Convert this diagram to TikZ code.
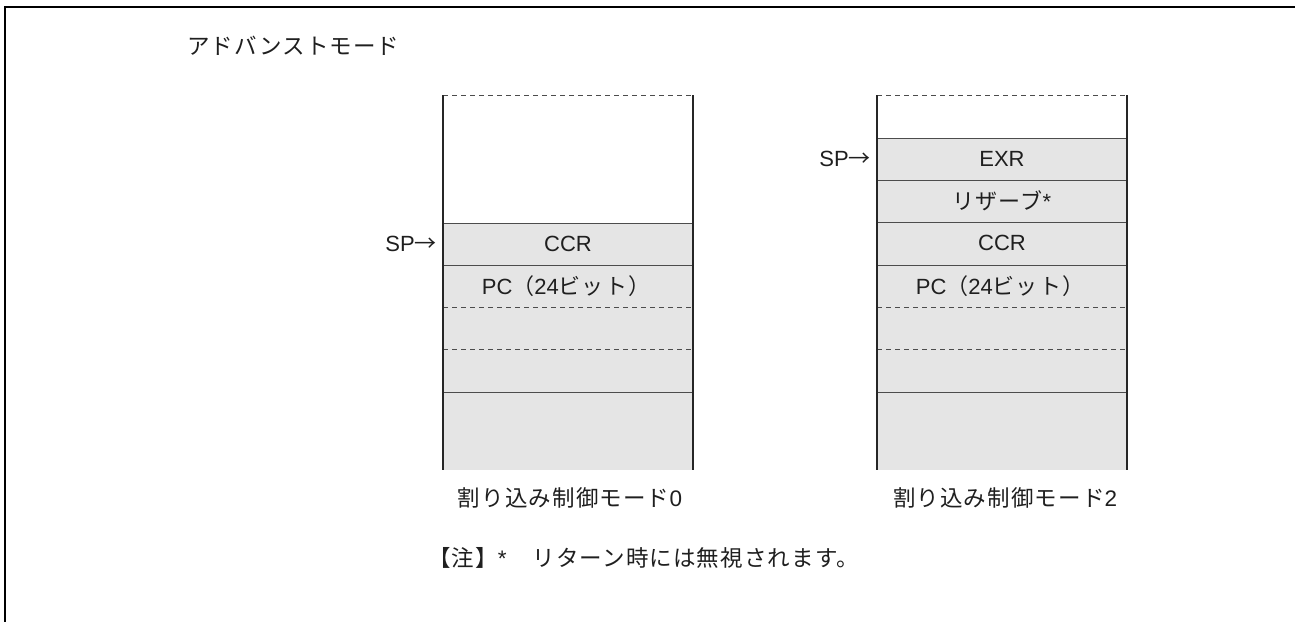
\documentclass[tikz,border=0pt]{standalone}
\usepackage{fontspec}
\setmainfont{Liberation Sans}
\newfontfamily\jp[LetterSpace=5]{Noto Sans CJK JP}
\newcommand{\J}[1]{{\jp #1}}
\begin{document}
\begin{tikzpicture}[x=1pt,y=-1pt,
  lbl/.style={inner sep=0pt,font=\fontsize{22}{25}\selectfont,text=black!88},
  cjk/.style={inner sep=0pt,font=\jp\fontsize{22.5}{26}\selectfont,text=black!88},
  side/.style={line width=2.2pt,draw=black!85},
  row/.style={line width=1pt,draw=black!70},
  dash row/.style={line width=1pt,draw=black!70,dash pattern=on 5pt off 4pt},
  cell/.style={fill=black!10}]
\useasboundingbox (0,0) rectangle (1295,622);
% frame
\draw[line width=2pt,draw=black] (1295,7) -- (5,7) -- (5,622);
\node[cjk,anchor=west] (title) at (187,46) {アドバンストモード};

% ---------- left stack ----------
\fill[cell] (443,223) rectangle (693,470);
\draw[dash row] (443,95) -- (693,95);
\draw[row] (443,223) -- (693,223);
\draw[row] (443,265) -- (693,265);
\draw[dash row] (443,307) -- (693,307);
\draw[dash row] (443,349) -- (693,349);
\draw[row] (443,392) -- (693,392);
\draw[side] (443,95) -- (443,470);
\draw[side] (693,95) -- (693,470);
\node[lbl] (ccrA) at (568,244) {CCR};
\node[lbl] (pcA) at (566,286) {PC\J{（}24\J{ビット）}};
\node[lbl,anchor=east] (spA) at (437,244) {SP\J{→}};
\node[cjk] (modeA) at (570,498) {割り込み制御モード{\fontspec{Liberation Sans}0}};

% ---------- right stack ----------
\fill[cell] (877,138) rectangle (1127,470);
\draw[dash row] (877,95) -- (1127,95);
\draw[row] (877,138) -- (1127,138);
\draw[row] (877,180) -- (1127,180);
\draw[row] (877,222) -- (1127,222);
\draw[row] (877,265) -- (1127,265);
\draw[dash row] (877,307) -- (1127,307);
\draw[dash row] (877,349) -- (1127,349);
\draw[row] (877,392) -- (1127,392);
\draw[side] (877,95) -- (877,470);
\draw[side] (1127,95) -- (1127,470);
\node[lbl] (exrB) at (1002,159) {EXR};
\node[lbl] (rsvB) at (1002,201) {\J{リザーブ}*};
\node[lbl] (ccrB) at (1002,243) {CCR};
\node[lbl] (pcB) at (1000,286) {PC\J{（}24\J{ビット）}};
\node[lbl,anchor=east] (spB) at (871,159) {SP\J{→}};
\node[cjk] (modeB) at (1005,498) {割り込み制御モード{\fontspec{Liberation Sans}2}};

% note
\node[cjk,anchor=west] (note) at (428,558) {【注】{\fontspec{Liberation Sans}*}\hspace{26pt}リターン時には無視されます。};
\end{tikzpicture}
\end{document}
